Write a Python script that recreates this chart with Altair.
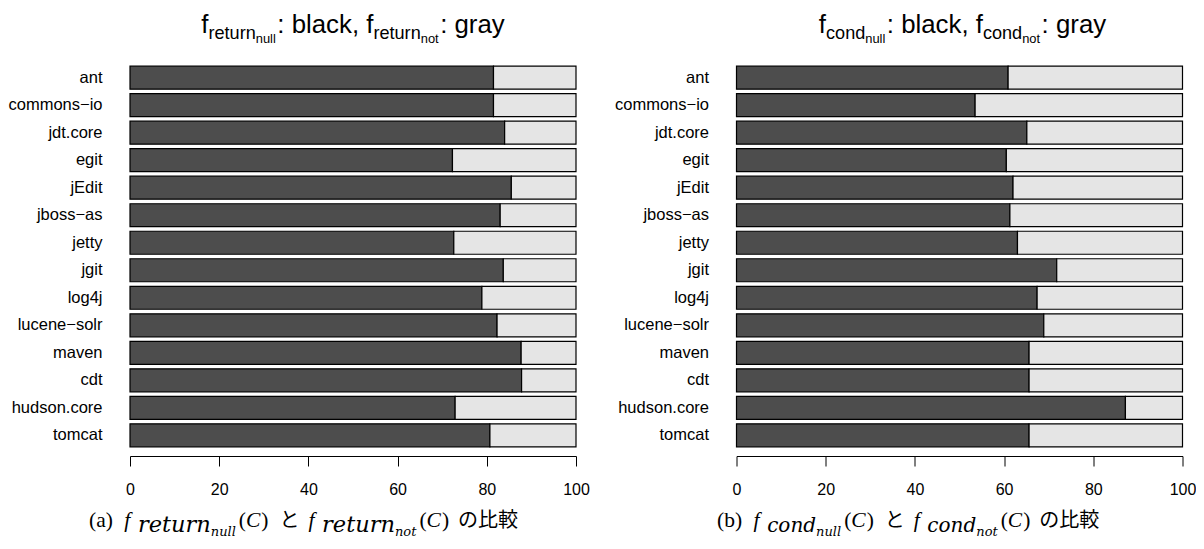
import altair as alt
import pandas as pd

projects = ["ant", "commons−io", "jdt.core", "egit", "jEdit", "jboss−as", "jetty",
            "jgit", "log4j", "lucene−solr", "maven", "cdt", "hudson.core", "tomcat"]
return_null = [81.5, 81.5, 84.0, 72.3, 85.5, 83.0, 72.6, 83.7, 78.9, 82.3, 87.7, 87.8, 72.9, 80.7]
return_not = [18.5, 18.5, 16.0, 27.7, 14.5, 17.0, 27.4, 16.3, 21.1, 17.7, 12.3, 12.2, 27.1, 19.3]
cond_null = [60.9, 53.5, 65.1, 60.5, 62.0, 61.3, 63.0, 71.8, 67.4, 68.9, 65.6, 65.6, 87.2, 65.6]
cond_not = [39.1, 46.5, 34.9, 39.5, 38.0, 38.7, 37.0, 28.2, 32.6, 31.1, 34.4, 34.4, 12.8, 34.4]
x_ticks = [0, 20, 40, 60, 80, 100]

DARK = "#4d4d4d"
LIGHT = "#e5e5e5"
PW, PH = 446, 399
SANS_F = "Liberation Sans"
SERIF_F = "Liberation Serif"
MATH_F = "DejaVu Serif"
CJK_F = "Noto Sans CJK JP"

SANS = {' ': 278, ':': 278, ',': 278, 'a': 556, 'b': 556, 'c': 500, 'd': 556, 'e': 556,
        'f': 278, 'g': 556, 'k': 500, 'l': 222, 'n': 556, 'o': 556, 'r': 333, 't': 278,
        'u': 556, 'y': 500}
SERIF_R = {'(': 333, ')': 333, 'a': 444, 'b': 500, ' ': 250}
SERIF_I = {'C': 667, 'f': 278}
MATH_I = {'r': 478, 'e': 592, 't': 402, 'u': 644, 'n': 644, 'l': 320, 'o': 602, 'c': 560,
          'd': 640}
CJK = {}


def tw(s, table, size):
    return sum(table.get(ch, 1000) for ch in s) * size / 1000.0


def seg_total(segs):
    return sum(tw(s[0], s[2], s[3]) + s[6] for s in segs)


def seg_layers(segs, x0, y0):
    layers = []
    x = x0
    for text, font, table, size, style, dy, gap in segs:
        layers.append(
            alt.Chart(alt.Data(values=[{}]))
            .mark_text(font=font, fontSize=size, fontStyle=style, align="left",
                       baseline="alphabetic", color="black")
            .encode(x=alt.value(x), y=alt.value(y0 + dy), text=alt.value(text))
        )
        x += tw(text, table, size) + gap
    return layers


T0, T1, T2 = 25.8, 18.1, 12.9


def title_segs(word):
    return [
        ("f", SANS_F, SANS, T0, "normal", 0, 0),
        (word, SANS_F, SANS, T1, "normal", 5.5, 0),
        ("null", SANS_F, SANS, T2, "normal", 10, 1.5),
        (": black, f", SANS_F, SANS, T0, "normal", 0, 0),
        (word, SANS_F, SANS, T1, "normal", 5.5, 0),
        ("not", SANS_F, SANS, T2, "normal", 10, 1.5),
        (": gray", SANS_F, SANS, T0, "normal", 0, 0),
    ]


M, S2, J = 21.5, 13, 20


def caption_segs(letter, word, s1):
    return [
        ("(" + letter + ")", SERIF_F, SERIF_R, M, "normal", 0, 11.5),
        ("f", SERIF_F, SERIF_I, M, "italic", 0, 7.6),
        (word, MATH_F, MATH_I, s1, "italic", 5, 0),
        ("null", MATH_F, MATH_I, S2, "italic", 9, 3),
        ("(", SERIF_F, SERIF_R, M, "normal", 0, 0),
        ("C", SERIF_F, SERIF_I, M, "italic", 0, 1),
        (")", SERIF_F, SERIF_R, M, "normal", 0, 11),
        ("と", CJK_F, CJK, J, "normal", 0, 9),
        ("f", SERIF_F, SERIF_I, M, "italic", 0, 7.6),
        (word, MATH_F, MATH_I, s1, "italic", 5, 0),
        ("not", MATH_F, MATH_I, S2, "italic", 9, 3),
        ("(", SERIF_F, SERIF_R, M, "normal", 0, 0),
        ("C", SERIF_F, SERIF_I, M, "italic", 0, 1),
        (")", SERIF_F, SERIF_R, M, "normal", 0, 9),
        ("の比較", CJK_F, CJK, J, "normal", 0, 0),
    ]


def panel(null_vals, not_vals, word, letter, s1, cap_x, title_c):
    df = pd.DataFrame({
        "project": projects * 2,
        "series": ["null"] * len(projects) + ["not"] * len(projects),
        "value": list(null_vals) + list(not_vals),
        "ord": [0] * len(projects) + [1] * len(projects),
    })
    bars = alt.Chart(df).mark_bar(stroke="black", strokeWidth=1.2).encode(
        x=alt.X("value:Q", stack="zero",
                scale=alt.Scale(domain=[0, 100], nice=False, zero=True),
                axis=alt.Axis(values=x_ticks, title=None, grid=False, tickSize=10,
                              tickColor="black", domainColor="black", tickWidth=1,
                              domainWidth=1, labelFontSize=16, labelFont=SANS_F,
                              labelColor="black", labelPadding=15, labelFlush=False,
                              labelOverlap=False, format="d")),
        y=alt.Y("project:N", sort=projects,
                scale=alt.Scale(paddingInner=0.165, paddingOuter=0.3325),
                axis=alt.Axis(title=None, ticks=False, tickSize=0, domain=False,
                              labelPadding=28, labelFontSize=16.5, labelFont=SANS_F,
                              labelColor="black", labelLimit=300)),
        color=alt.Color("series:N", scale=alt.Scale(domain=["null", "not"], range=[DARK, LIGHT]),
                        legend=None),
        order=alt.Order("ord:Q"),
    )
    ts = title_segs(word)
    tx = title_c - seg_total(ts) / 2
    layers = ([bars] + seg_layers(ts, tx, -24)
              + seg_layers(caption_segs(letter, word, s1), cap_x, 470))
    return alt.layer(*layers).properties(width=PW, height=PH)


left = panel(return_null, return_not, "return", "a", 22.5, -41, 223)
right = panel(cond_null, cond_not, "cond", "b", 20, -19.5, 226)

chart = (
    alt.hconcat(left, right, spacing=24.5)
    .properties(padding={"left": 0, "top": 4, "right": 0, "bottom": 0})
    .configure_view(stroke=None)
)

chart.save("out.html", embed_options={"renderer": "svg", "actions": False})
